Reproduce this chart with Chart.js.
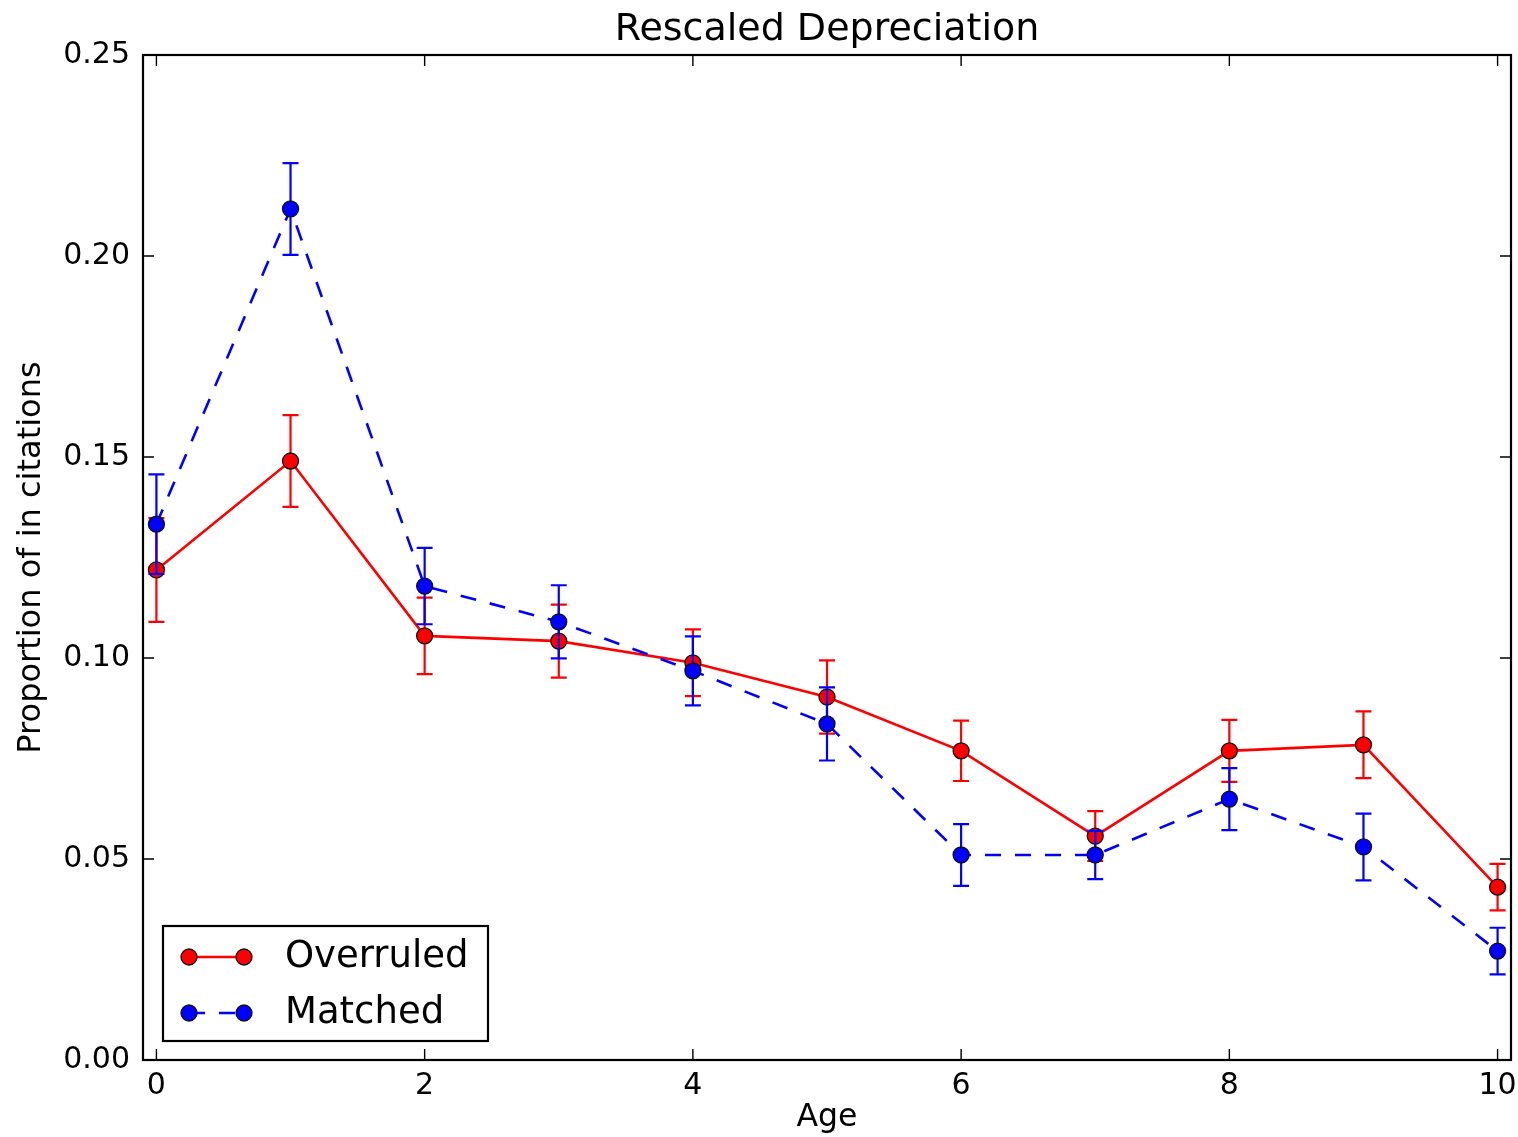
<!DOCTYPE html>
<html>
<head>
<meta charset="utf-8">
<script src="https://cdn.jsdelivr.net/npm/chart.js@4/dist/chart.umd.min.js"></script>
<style>
  html, body { margin: 0; padding: 0; background: #ffffff; }
  #wrap { width: 1518px; height: 1137px; }
</style>
</head>
<body>
<div id="wrap"><canvas id="c" width="1518" height="1137"></canvas></div>
<script>
const chartTitle = 'Rescaled Depreciation';
const xTitle = 'Age';
const yTitle = 'Proportion of in citations';
const ages = [0, 1, 2, 3, 4, 5, 6, 7, 8, 9, 10];
const overruledLabel = 'Overruled';
const overruled    = [0.1219, 0.1490, 0.1055, 0.1042, 0.0988, 0.0903, 0.0769, 0.0557, 0.0769, 0.0784, 0.0430];
const overruledErr = [0.0129, 0.0114, 0.0095, 0.0091, 0.0083, 0.0091, 0.0075, 0.0062, 0.0077, 0.0083, 0.0058];
const matchedLabel = 'Matched';
const matched      = [0.1333, 0.2117, 0.1179, 0.1090, 0.0968, 0.0836, 0.0510, 0.0510, 0.0649, 0.0530, 0.0271];
const matchedErr   = [0.0124, 0.0114, 0.0095, 0.0091, 0.0086, 0.0091, 0.0077, 0.0060, 0.0077, 0.0083, 0.0058];
const xTicks = [0, 2, 4, 6, 8, 10];
const yTicks = [0.00, 0.05, 0.10, 0.15, 0.20, 0.25];

const FONT = "'DejaVu Sans', 'Liberation Sans', sans-serif";
const LW = 2.6;
const DASH = [16, 14];

const errorBars = {
  id: 'errorBars',
  beforeDatasetDraw(chart, args) {
    const ds = chart.data.datasets[args.index];
    if (!ds.errors) return;
    const meta = args.meta;
    const ys = chart.scales.y;
    const ctx = chart.ctx;
    ctx.save();
    ctx.strokeStyle = ds.borderColor;
    ctx.lineWidth = 2.2;
    ctx.setLineDash([]);
    meta.data.forEach((pt, i) => {
      const v = ds.data[i].y, e = ds.errors[i];
      const x = pt.x;
      const yTop = ys.getPixelForValue(v + e);
      const yBot = ys.getPixelForValue(v - e);
      ctx.beginPath();
      ctx.moveTo(x, yTop); ctx.lineTo(x, yBot);
      ctx.moveTo(x - 8, yTop); ctx.lineTo(x + 8, yTop);
      ctx.moveTo(x - 8, yBot); ctx.lineTo(x + 8, yBot);
      ctx.stroke();
    });
    ctx.restore();
  }
};

const frame = {
  id: 'frame',
  afterDatasetsDraw(chart) {
    const {ctx, chartArea: a, scales} = chart;
    ctx.save();
    ctx.strokeStyle = '#000';
    ctx.setLineDash([]);
    ctx.lineWidth = 1.4;
    const tl = 11;
    ctx.beginPath();
    scales.x.ticks.forEach(t => {
      const x = scales.x.getPixelForValue(t.value);
      ctx.moveTo(x, a.bottom); ctx.lineTo(x, a.bottom - tl);
      ctx.moveTo(x, a.top); ctx.lineTo(x, a.top + tl);
    });
    scales.y.ticks.forEach(t => {
      const y = scales.y.getPixelForValue(t.value);
      ctx.moveTo(a.left, y); ctx.lineTo(a.left + tl, y);
      ctx.moveTo(a.right, y); ctx.lineTo(a.right - tl, y);
    });
    ctx.stroke();
    ctx.lineWidth = 2.2;
    ctx.strokeRect(a.left, a.top, a.right - a.left, a.bottom - a.top);
    ctx.restore();
  }
};

const axesTitle = {
  id: 'axesTitle',
  afterDraw(chart) {
    const {ctx, chartArea: a} = chart;
    ctx.save();
    ctx.fillStyle = '#000';
    ctx.font = "38px " + FONT;
    ctx.textAlign = 'center';
    ctx.textBaseline = 'middle';
    ctx.fillText(chartTitle, (a.left + a.right) / 2, a.top - 25);
    ctx.restore();
  }
};

const boxLegend = {
  id: 'boxLegend',
  afterDraw(chart) {
    const {ctx, chartArea: a} = chart;
    const items = [chart.data.datasets[0], chart.data.datasets[1]];
    const bx = a.left + 20, by = a.bottom - 134, bw = 325, bh = 115;
    ctx.save();
    ctx.fillStyle = '#fff';
    ctx.fillRect(bx, by, bw, bh);
    ctx.strokeStyle = '#000';
    ctx.lineWidth = 2.2;
    ctx.setLineDash([]);
    ctx.strokeRect(bx, by, bw, bh);
    items.forEach((ds, i) => {
      const y = by + 31 + i * 56;
      const x1 = bx + 26, x2 = bx + 81;
      ctx.strokeStyle = ds.borderColor;
      ctx.lineWidth = LW;
      ctx.setLineDash(ds.borderDash || []);
      ctx.beginPath(); ctx.moveTo(x1, y); ctx.lineTo(x2, y); ctx.stroke();
      ctx.setLineDash([]);
      [x1, x2].forEach(x => {
        ctx.beginPath();
        ctx.arc(x, y, ds.pointRadius, 0, Math.PI * 2);
        ctx.fillStyle = ds.pointBackgroundColor;
        ctx.fill();
        ctx.lineWidth = ds.pointBorderWidth;
        ctx.strokeStyle = ds.pointBorderColor;
        ctx.stroke();
      });
      ctx.fillStyle = '#000';
      ctx.font = "37px " + FONT;
      ctx.textBaseline = 'middle';
      ctx.textAlign = 'left';
      ctx.fillText(ds.label, bx + 122, y);
    });
    ctx.restore();
  }
};

const toPts = (ys) => ages.map((a, i) => ({x: a, y: ys[i]}));

new Chart(document.getElementById('c'), {
  type: 'line',
  data: {
    datasets: [
      {
        label: overruledLabel,
        data: toPts(overruled),
        errors: overruledErr,
        borderColor: '#ff0000',
        borderWidth: LW,
        pointBackgroundColor: '#ff0000',
        pointBorderColor: '#111',
        pointBorderWidth: 1.3,
        pointRadius: 8,
        tension: 0,
        fill: false,
        order: 1,
        clip: false
      },
      {
        label: matchedLabel,
        data: toPts(matched),
        errors: matchedErr,
        borderColor: '#0000ff',
        borderWidth: LW,
        borderDash: DASH,
        pointBackgroundColor: '#0000ff',
        pointBorderColor: '#111',
        pointBorderWidth: 1.3,
        pointRadius: 8,
        tension: 0,
        fill: false,
        order: 0,
        clip: false
      }
    ]
  },
  options: {
    responsive: false,
    animation: false,
    events: [],
    layout: { autoPadding: false, padding: { left: 0, right: 7, top: 55, bottom: 0 } },
    plugins: {
      legend: { display: false },
      tooltip: { enabled: false },
      title: { display: false }
    },
    scales: {
      x: {
        type: 'linear',
        min: -0.1,
        max: 10.1,
        afterBuildTicks: s => { s.ticks = xTicks.map(v => ({ value: v })); },
        afterFit: s => { s.height = 77; s.paddingLeft = 0; s.paddingRight = 0; },
        grid: { display: false, drawTicks: false },
        border: { display: false },
        ticks: {
          color: '#000',
          font: { family: FONT, size: 30 },
          padding: 8,
          maxRotation: 0,
          autoSkip: false,
          callback: v => String(v)
        },
        title: {
          display: true,
          text: xTitle,
          color: '#000',
          font: { family: FONT, size: 31.5, lineHeight: 1.2 },
          padding: { top: 0, bottom: 0 }
        }
      },
      y: {
        type: 'linear',
        min: 0,
        max: 0.25,
        afterBuildTicks: s => { s.ticks = yTicks.map(v => ({ value: v })); },
        afterFit: s => { s.width = 143; s.paddingTop = 0; s.paddingBottom = 0; },
        grid: { display: false, drawTicks: false },
        border: { display: false },
        ticks: {
          color: '#000',
          font: { family: FONT, size: 30 },
          padding: 13,
          autoSkip: false,
          callback: v => Number(v).toFixed(2)
        },
        title: {
          display: true,
          text: yTitle,
          color: '#000',
          font: { family: FONT, size: 32, lineHeight: 1.2 },
          padding: { top: 12, bottom: 0 }
        }
      }
    }
  },
  plugins: [errorBars, frame, axesTitle, boxLegend]
});
</script>
</body>
</html>
